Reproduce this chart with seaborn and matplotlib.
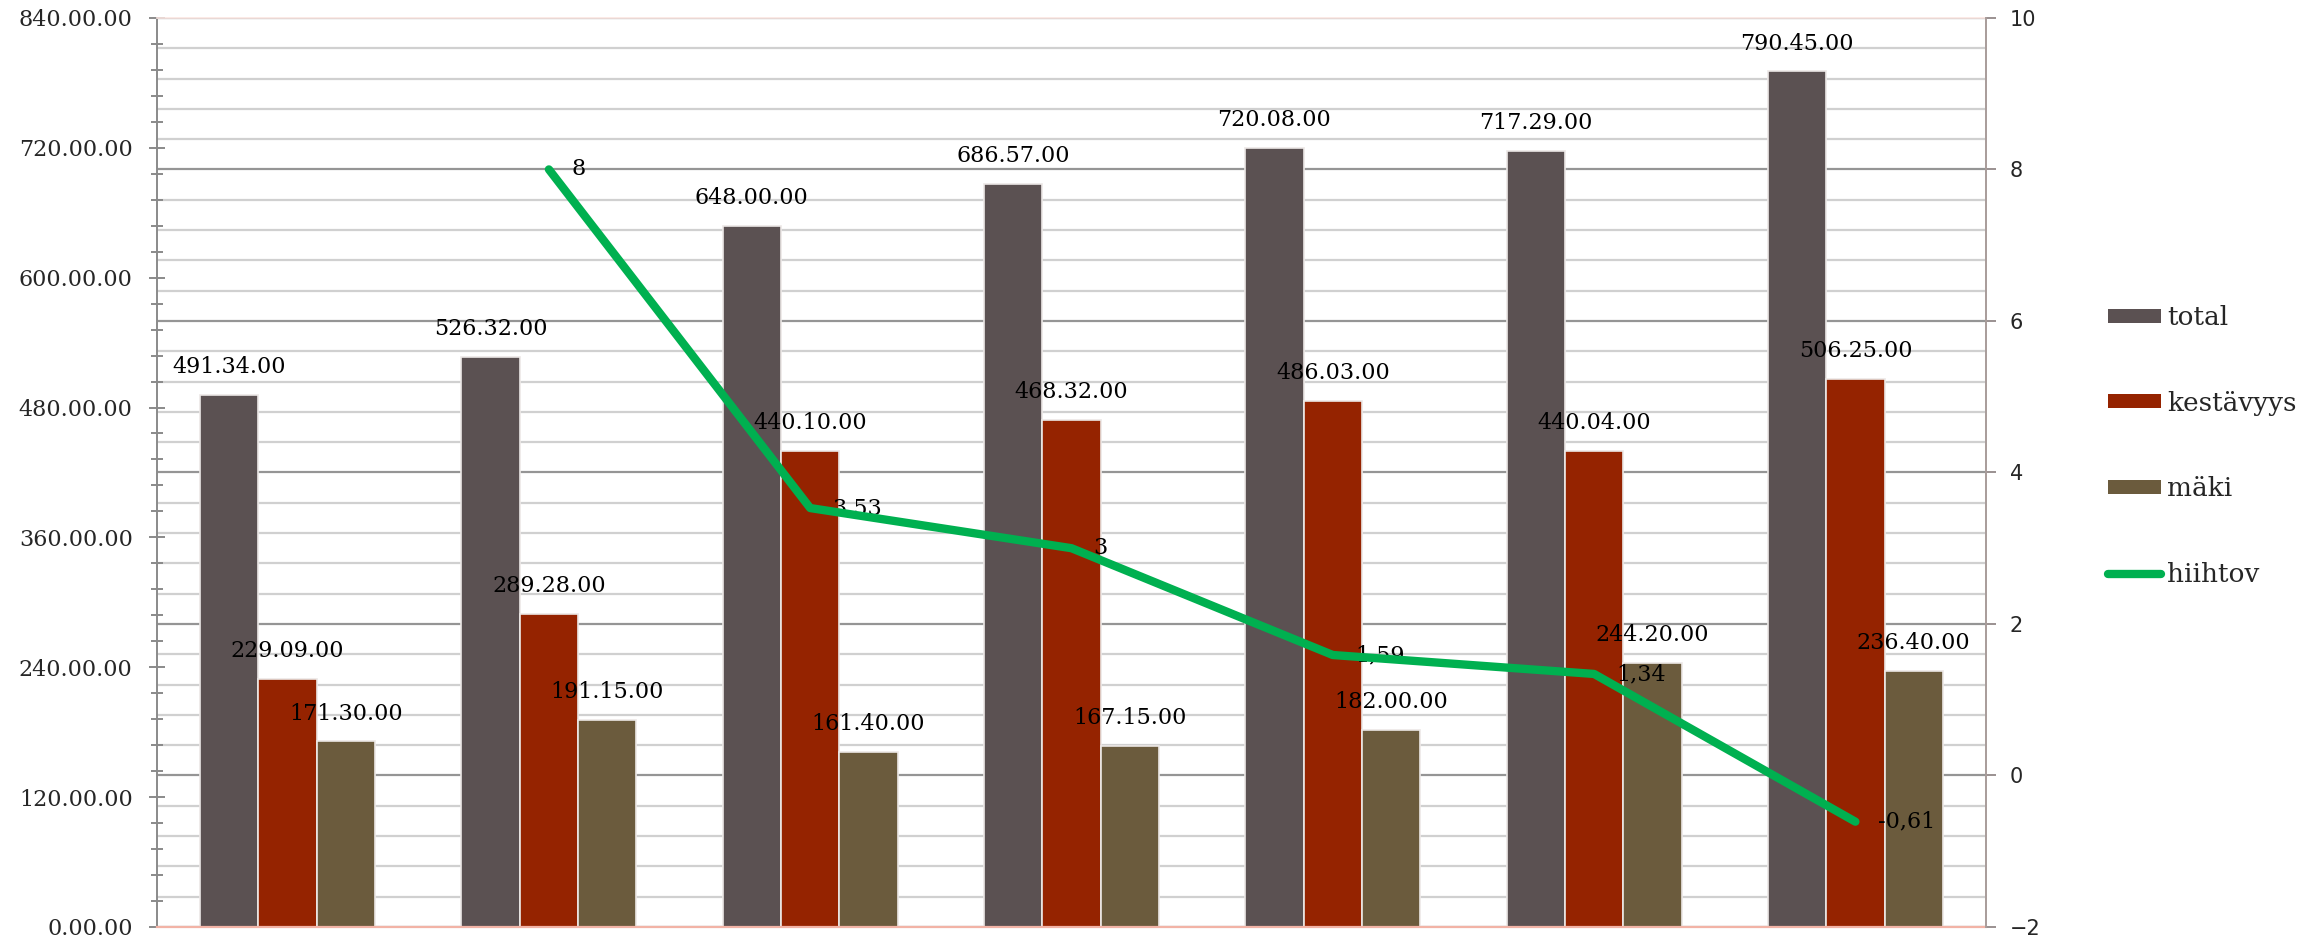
import numpy as np
import pandas as pd
import matplotlib
matplotlib.use("Agg")
import matplotlib.pyplot as plt
from matplotlib.patches import Patch
from matplotlib.lines import Line2D
from matplotlib.ticker import MultipleLocator, FuncFormatter
import seaborn as sns

# Race times per round (minutes, seconds)
rounds = ["1", "2", "3", "4", "5", "6", "7"]
total_min = [491, 526, 648, 686, 720, 717, 790]
total_sec = [34, 32, 0, 57, 8, 29, 45]
kest_min = [229, 289, 440, 468, 486, 440, 506]
kest_sec = [9, 28, 10, 32, 3, 4, 25]
maki_min = [171, 191, 161, 167, 182, 244, 236]
maki_sec = [30, 15, 40, 15, 0, 20, 40]
# Skiing speed difference (secondary axis)
hiihtov = [np.nan, 8, 3.53, 3, 1.59, 1.34, -0.61]

series_names = ["total", "kestävyys", "mäki"]
colors = {"total": "#5b5152", "kestävyys": "#952300", "mäki": "#6b5b3d"}
line_color = "#00b050"

def to_minutes(m, s):
    return [mm + ss / 60 for mm, ss in zip(m, s)]

def time_label(m, s):
    return [f"{mm}.{ss:02d}.00" for mm, ss in zip(m, s)]

rows = []
for name, m, s in [("total", total_min, total_sec),
                   ("kestävyys", kest_min, kest_sec),
                   ("mäki", maki_min, maki_sec)]:
    for r, v in zip(rounds, to_minutes(m, s)):
        rows.append({"kierros": r, "aika": v, "sarja": name})
df = pd.DataFrame(rows)
labels = {"total": time_label(total_min, total_sec),
          "kestävyys": time_label(kest_min, kest_sec),
          "mäki": time_label(maki_min, maki_sec)}

sns.set_theme(style="white")
plt.rcParams["font.family"] = ["DejaVu Serif"]

fig = plt.figure(figsize=(23.08, 9.43), dpi=100)
ax = fig.add_axes([0.068, 0.017, 0.7925, 0.964])

y_lo, y_hi = 0, 840
r_lo, r_hi = -2, 10

# Gridlines follow the secondary axis (major every 2, minor every 0.4)
for v in np.arange(r_lo, r_hi + 0.001, 0.4):
    yv = (v - r_lo) / (r_hi - r_lo) * (y_hi - y_lo) + y_lo
    is_major = abs(round(v / 2) * 2 - v) < 1e-6
    ax.axhline(yv, color="#959595" if is_major else "#d0d0d0",
               lw=1.6, zorder=0)

sns.barplot(data=df, x="kierros", y="aika", hue="sarja",
            hue_order=series_names, palette=colors, width=0.67,
            saturation=1, ax=ax, legend=False, zorder=2,
            edgecolor="#ece8e6", linewidth=1.2)

for name, cont in zip(series_names, ax.containers):
    ax.bar_label(cont, labels=labels[name], padding=12, fontsize=16,
                 color="black")

ax.set_xlim(-0.5, len(rounds) - 0.5)
ax.set_ylim(y_lo, y_hi)
ax.set_xlabel("")
ax.set_ylabel("")
ax.set_xticks([])
ax.yaxis.set_major_locator(MultipleLocator(120))
ax.yaxis.set_minor_locator(MultipleLocator(24))
ax.yaxis.set_major_formatter(FuncFormatter(lambda v, p: f"{int(v)}.00.00"))
ax.tick_params(axis="y", which="major", direction="inout", length=11,
               width=1.4, color="#8a8a8a", labelsize=16, pad=12)
ax.tick_params(axis="y", which="minor", direction="inout", length=9,
               width=1.4, color="#8a8a8a")
ax.spines["left"].set_color("#8a8a8a")
ax.spines["left"].set_linewidth(1.4)
ax.spines["bottom"].set_color("#f2b3a6")
ax.spines["bottom"].set_linewidth(1.6)
ax.spines["top"].set_color("#fbe6e2")
ax.spines["top"].set_linewidth(1.2)
ax.spines["right"].set_visible(False)

ax2 = ax.twinx()
x_pos = np.arange(len(rounds))
sns.lineplot(x=x_pos, y=hiihtov, ax=ax2, color=line_color, lw=6,
             solid_capstyle="round", solid_joinstyle="round", zorder=5)
for xp, v in zip(x_pos, hiihtov):
    if np.isnan(v):
        continue
    ax2.annotate(f"{v:g}".replace(".", ","), (xp, v), xytext=(16, 0),
                 textcoords="offset points", ha="left", va="center",
                 fontsize=16, color="black")
ax2.set_ylim(r_lo, r_hi)
ax2.yaxis.set_major_locator(MultipleLocator(2))
ax2.tick_params(axis="y", which="major", direction="out", length=7,
                width=1.4, color="#9a9090", labelsize=15, pad=10,
                labelfontfamily="DejaVu Sans")
ax2.set_ylabel("")
for side in ["left", "top", "bottom"]:
    ax2.spines[side].set_visible(False)
ax2.spines["right"].set_color("#a89c9a")
ax2.spines["right"].set_linewidth(1.4)

handles = [Patch(facecolor=colors[n], edgecolor="none", label=n)
           for n in series_names]
handles.append(Line2D([0], [0], color=line_color, lw=6,
                      solid_capstyle="round", label="hiihtov"))
fig.legend(handles=handles, loc="center left",
           bbox_to_anchor=(0.903, 0.527), frameon=False, fontsize=19,
           handlelength=2.0, handleheight=0.45, handletextpad=0.25,
           labelspacing=2.3)

fig.savefig("out.png", dpi=100)
